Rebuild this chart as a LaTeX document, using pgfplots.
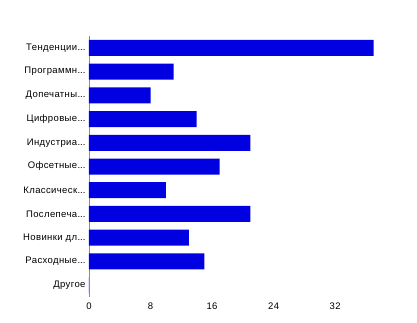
\documentclass[border=0pt]{standalone}
\usepackage{pgfplots}
\pgfplotsset{compat=1.18}
\usepackage{fontspec}
\setmainfont{Liberation Sans}
\definecolor{barblue}{RGB}{0,0,225}
\definecolor{axgray}{RGB}{140,140,140}
\newcommand{\el}{.\kern0pt.\kern0pt.}
\begin{document}
\begin{tikzpicture}[x=1pt,y=1pt]
\path[use as bounding box] (0,0) rectangle (417,322);
\begin{axis}[
  at={(89pt,25pt)}, anchor=south west,
  scale only axis, width=307.6pt, height=261pt,
  xbar, xmin=0, xmax=40, ymin=-0.5, ymax=10.5, y dir=reverse,
  bar width=16pt,
  ytick={0,...,10},
  yticklabels={{Тенденции\el},{Программн\el},{Допечатны\el},{Цифровые\el},{Индустриа\el},{Офсетные\el},{Классическ\el},{Послепеча\el},{Новинки дл\el},{Расходные\el},{Другое}},
  xtick={0,8,16,24,32},
  axis lines*=left, separate axis lines,
  x axis line style={draw=none},
  y axis line style={draw=axgray, line width=0.8pt},
  major tick length=0pt,
  tick label style={font=\fontsize{9.5}{10}\selectfont\addfontfeatures{LetterSpace=4}, text=black},
  /pgf/number format/assume math mode=true,
  xticklabel style={yshift=-2pt},
  clip=false,
]
\addplot[fill=barblue, draw=none] coordinates {
(37,0) (11,1) (8,2) (14,3) (21,4) (17,5) (10,6) (21,7) (13,8) (15,9) (0,10)
};
\end{axis}
\end{tikzpicture}
\end{document}
